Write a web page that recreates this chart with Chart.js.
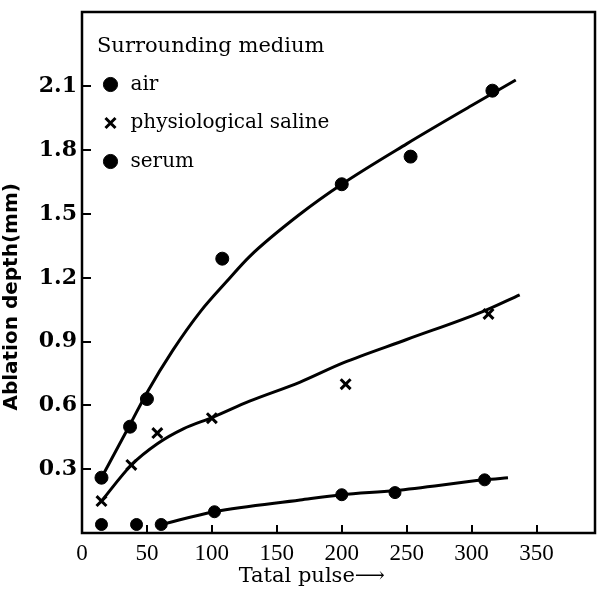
<!DOCTYPE html>
<html>
<head>
<meta charset="utf-8">
<script src="https://cdn.jsdelivr.net/npm/chart.js@4/dist/chart.umd.min.js"></script>
<style>
  html, body { margin: 0; padding: 0; background: #fff; }
  #wrap { width: 598px; height: 589px; }
</style>
</head>
<body>
<div id="wrap"><canvas id="grafica" width="598" height="589"></canvas></div>
<script>
// measured points
var airX = [15, 37, 50, 108, 200, 253, 316];
var airY = [0.26, 0.50, 0.63, 1.29, 1.64, 1.77, 2.08];
var salineX = [15, 38, 58, 100, 203, 313];
var salineY = [0.15, 0.32, 0.47, 0.54, 0.70, 1.03];
var serumX = [15, 42, 61, 102, 200, 241, 310];
var serumY = [0.04, 0.04, 0.04, 0.10, 0.18, 0.19, 0.25];

// hand drawn fit curves
var airCurveX = [15, 37, 50, 70, 91, 111, 129, 168, 200, 250, 300, 334];
var airCurveY = [0.26, 0.51, 0.66, 0.86, 1.04, 1.18, 1.30, 1.50, 1.64, 1.83, 2.01, 2.13];
var salineCurveX = [15, 38, 58, 78, 101, 129, 168, 201, 250, 308, 337];
var salineCurveY = [0.15, 0.32, 0.42, 0.49, 0.545, 0.62, 0.71, 0.80, 0.91, 1.04, 1.12];
var serumCurveX = [61, 102, 168, 200, 241, 310, 328];
var serumCurveY = [0.04, 0.10, 0.155, 0.18, 0.20, 0.25, 0.26];

var legendTitle = "Surrounding medium";
var seriesNames = ["air", "physiological saline", "serum"];
var xTitle = "Tatal pulse\u27F6";
var yTitle = "Ablation depth(mm)";

function puntos(xs, ys) {
    var out = [];
    for (var i = 0; i < xs.length; i++) {
        out.push({ x: xs[i], y: ys[i] });
    }
    return out;
}

// frame around the plot
var marco = {
    id: "marco",
    afterDraw: function (chart) {
        var a = chart.chartArea;
        var ctx = chart.ctx;
        ctx.save();
        ctx.strokeStyle = "#000";
        ctx.lineWidth = 2.5;
        ctx.strokeRect(a.left, a.top, a.right - a.left, a.bottom - a.top);
        ctx.restore();
    }
};

function curva(xs, ys) {
    return {
        data: puntos(xs, ys),
        showLine: true,
        borderColor: "#000",
        borderWidth: 3,
        pointRadius: 0,
        tension: 0.4,
        cubicInterpolationMode: "monotone",
        fill: false
    };
}

var miCanvas = document.getElementById("grafica").getContext("2d");

var chart = new Chart(miCanvas, {
    type: "scatter",
    data: {
        datasets: [
            {
                label: seriesNames[0],
                data: puntos(airX, airY),
                pointStyle: "circle",
                pointRadius: 6.5,
                backgroundColor: "#000",
                borderColor: "#000",
                borderWidth: 1
            },
            {
                label: seriesNames[1],
                data: puntos(salineX, salineY),
                pointStyle: "crossRot",
                pointRadius: 7,
                backgroundColor: "#000",
                borderColor: "#000",
                borderWidth: 3
            },
            {
                label: seriesNames[2],
                data: puntos(serumX, serumY),
                pointStyle: "circle",
                pointRadius: 6,
                backgroundColor: "#000",
                borderColor: "#000",
                borderWidth: 1
            },
            curva(airCurveX, airCurveY),
            curva(salineCurveX, salineCurveY),
            curva(serumCurveX, serumCurveY)
        ]
    },
    options: {
        responsive: false,
        animation: false,
        layout: { autoPadding: false, padding: { top: 12, right: 3, left: 0, bottom: 0 } },
        plugins: {
            tooltip: { enabled: false },
            legend: {
                position: "chartArea",
                align: "start",
                title: {
                    display: true,
                    text: legendTitle,
                    color: "#000",
                    font: { family: "DejaVu Serif", size: 21, lineHeight: 1 },
                    padding: { top: 36, bottom: -1 }
                },
                labels: {
                    usePointStyle: true,
                    boxWidth: 50,
                    boxHeight: 10,
                    padding: 18.5,
                    color: "#000",
                    font: { family: "DejaVu Serif", size: 20 },
                    filter: function (item) { return item.datasetIndex < 3; }
                }
            }
        },
        scales: {
            x: {
                type: "linear",
                min: 0,
                max: 395,
                border: { display: false },
                grid: {
                    drawOnChartArea: false,
                    tickLength: -8,
                    lineWidth: 2,
                    color: "#000"
                },
                ticks: {
                    stepSize: 50,
                    includeBounds: false,
                    padding: 15,
                    maxRotation: 0,
                    color: "#000",
                    font: { family: "Liberation Serif", size: 23 }
                },
                title: {
                    display: true,
                    text: xTitle + "\u00a0\u00a0\u00a0\u00a0\u00a0\u00a0\u00a0\u00a0",
                    color: "#000",
                    font: { family: "DejaVu Serif", size: 21 },
                    padding: { top: 0, bottom: 0 }
                },
                afterFit: function (scale) {
                    scale.height = 56;
                    scale.paddingLeft = 0;
                    scale.paddingRight = 0;
                }
            },
            y: {
                type: "linear",
                min: 0,
                max: 2.45,
                border: { display: false },
                grid: {
                    drawOnChartArea: false,
                    tickLength: -9,
                    lineWidth: 2,
                    color: function (c) {
                        return (c.tick && (c.tick.value === 0 || c.tick.value > 2.2)) ? "rgba(0,0,0,0)" : "#000";
                    }
                },
                ticks: {
                    stepSize: 0.3,
                    includeBounds: false,
                    padding: 14,
                    color: "#000",
                    font: { family: "DejaVu Serif", size: 22, weight: "bold" },
                    callback: function (v) {
                        if (v === 0 || v > 2.2) return "";
                        return v.toFixed(1);
                    }
                },
                title: {
                    display: true,
                    text: yTitle + "\u00a0\u00a0\u00a0\u00a0\u00a0\u00a0\u00a0",
                    color: "#000",
                    font: { family: "DejaVu Sans", size: 20, weight: "bold" },
                    padding: { top: 0, bottom: 0 }
                },
                afterFit: function (scale) {
                    scale.width = 82;
                    scale.paddingTop = 0;
                    scale.paddingBottom = 0;
                }
            }
        }
    },
    plugins: [marco]
});
</script>
</body>
</html>
